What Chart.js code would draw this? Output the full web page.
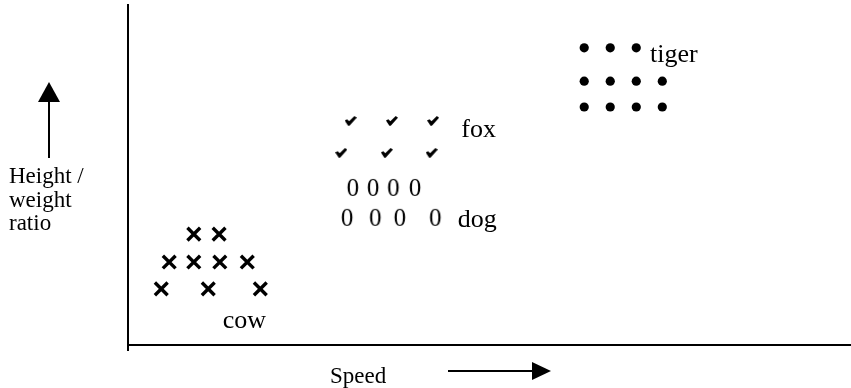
<!DOCTYPE html>
<html>
<head>
<meta charset="utf-8">
<script src="https://cdn.jsdelivr.net/npm/chart.js@4.4.0/dist/chart.umd.min.js"></script>
<style>
  html, body { margin: 0; padding: 0; background: #fff; }
  #wrap { width: 851px; height: 388px; }
</style>
</head>
<body>
<div id="wrap"><canvas id="chart"></canvas></div>
<script>
// Speed (x) against height / weight ratio (y), both read on a 0-100 scale
const cowX = [9.1, 12.6, 5.7, 9.1, 12.7, 16.5, 4.6, 11.1, 18.3];
const cowY = [32.6, 32.6, 24.4, 24.4, 24.4, 24.4, 16.5, 16.5, 16.5];

const foxX = [30.8, 36.5, 42.2, 29.5, 35.8, 42.0];
const foxY = [65.9, 65.9, 65.9, 56.5, 56.5, 56.5];

const dogX = [31.1, 33.9, 36.7, 39.7, 30.3, 34.2, 37.6, 42.5];
const dogY = [46.2, 46.2, 46.2, 46.2, 37.4, 37.4, 37.4, 37.4];

const tigerX = [63.1, 66.7, 70.3, 63.1, 66.7, 70.3, 73.9, 63.1, 66.7, 70.3, 73.9];
const tigerY = [87.4, 87.4, 87.4, 77.6, 77.6, 77.6, 77.6, 70.0, 70.0, 70.0, 70.0];

// group names and where they are written (data units, left/baseline)
const labelText = ['cow', 'fox', 'dog', 'tiger'];
const labelX = [13.1, 46.1, 45.6, 72.2];
const labelY = [5.0, 61.2, 34.7, 83.2];

const axisTitleY = ['Height /', 'weight', 'ratio'];
const axisTitleX = 'Speed';

const SERIF = "'Liberation Serif', 'Times New Roman', serif";

const toPoints = (xs, ys) => xs.map((x, i) => ({ x, y: ys[i] }));

// small canvases used as point styles
function makeCheck() {
  const c = document.createElement('canvas');
  c.width = 12;
  c.height = 10;
  const g = c.getContext('2d');
  g.fillStyle = '#000';
  g.beginPath();
  g.moveTo(0.0, 4.6);
  g.lineTo(2.4, 3.2);
  g.lineTo(4.4, 5.2);
  g.lineTo(9.8, 0.0);
  g.lineTo(12.0, 1.8);
  g.lineTo(4.8, 9.8);
  g.lineTo(3.4, 9.8);
  g.closePath();
  g.fill();
  return c;
}

function makeZero() {
  const c = document.createElement('canvas');
  c.width = 16;
  c.height = 20;
  const g = c.getContext('2d');
  g.fillStyle = '#000';
  g.font = '25px ' + SERIF;
  g.textAlign = 'center';
  g.textBaseline = 'alphabetic';
  g.fillText('0', 8, 18.4);
  return c;
}

const decorations = {
  id: 'decorations',
  afterDraw(chart) {
    const { ctx, chartArea, scales } = chart;
    ctx.save();
    ctx.fillStyle = '#000';
    ctx.strokeStyle = '#000';

    // y axis runs a little past the x axis
    ctx.lineWidth = 2;
    ctx.beginPath();
    ctx.moveTo(chartArea.left, chartArea.bottom);
    ctx.lineTo(chartArea.left, chartArea.bottom + 6);
    ctx.stroke();

    // group labels
    ctx.font = '26px ' + SERIF;
    ctx.textAlign = 'left';
    ctx.textBaseline = 'alphabetic';
    labelText.forEach((t, i) => {
      ctx.fillText(t, scales.x.getPixelForValue(labelX[i]), scales.y.getPixelForValue(labelY[i]));
    });

    // axis titles
    ctx.font = '23px ' + SERIF;
    axisTitleY.forEach((t, i) => ctx.fillText(t, 9, 183 + i * 23.5));
    ctx.fillText(axisTitleX, 330, 383);

    // up arrow
    ctx.lineWidth = 2;
    ctx.beginPath();
    ctx.moveTo(49, 158);
    ctx.lineTo(49, 100);
    ctx.stroke();
    ctx.beginPath();
    ctx.moveTo(49, 82);
    ctx.lineTo(38, 102);
    ctx.lineTo(60, 102);
    ctx.closePath();
    ctx.fill();

    // right arrow
    ctx.beginPath();
    ctx.moveTo(448, 371);
    ctx.lineTo(534, 371);
    ctx.stroke();
    ctx.beginPath();
    ctx.moveTo(551, 371);
    ctx.lineTo(532, 362);
    ctx.lineTo(532, 380);
    ctx.closePath();
    ctx.fill();

    ctx.restore();
  }
};

const hiddenAxis = (min, max) => ({
  type: 'linear',
  min,
  max,
  grid: { display: false, drawTicks: false },
  ticks: { display: false },
  border: { display: true, color: '#000', width: 2 }
});

new Chart(document.getElementById('chart'), {
  type: 'scatter',
  data: {
    datasets: [
      {
        label: 'cow',
        data: toPoints(cowX, cowY),
        pointStyle: 'crossRot',
        pointRadius: 9,
        borderColor: '#000',
        borderWidth: 3.4
      },
      {
        label: 'fox',
        data: toPoints(foxX, foxY),
        pointStyle: makeCheck()
      },
      {
        label: 'dog',
        data: toPoints(dogX, dogY),
        pointStyle: makeZero()
      },
      {
        label: 'tiger',
        data: toPoints(tigerX, tigerY),
        pointStyle: 'circle',
        pointRadius: 4.6,
        backgroundColor: '#000',
        borderColor: '#000',
        borderWidth: 0
      }
    ]
  },
  options: {
    responsive: true,
    maintainAspectRatio: false,
    animation: false,
    events: [],
    layout: { autoPadding: false, padding: { left: 128, top: 5, right: 0, bottom: 43 } },
    plugins: {
      legend: { display: false },
      tooltip: { enabled: false }
    },
    scales: {
      x: hiddenAxis(0, 100),
      y: hiddenAxis(0, 100)
    }
  },
  plugins: [decorations]
});
</script>
</body>
</html>
